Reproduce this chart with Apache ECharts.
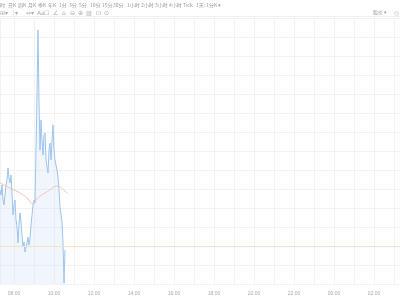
<!DOCTYPE html>
<html><head><meta charset="utf-8">
<script src="https://cdn.jsdelivr.net/npm/echarts@6/dist/echarts.min.js"></script>
<style>html,body{margin:0;padding:0;background:#fff}#c{width:400px;height:300px}</style>
</head><body><div id="c"></div>
<script>
// toolbar labels
var periodLabels = ["时","日K","周K","月K","季K","年K","1分","3分","5分","10分","15分","30分","1小时","2小时","3小时","4小时","Tick"];
var periodX =      [0, 8, 18, 28, 38, 48, 59, 69, 79, 90, 102, 113, 127, 141, 155, 169, 183];
var cycleLabel = "1天: 1分K ▾";
var toolIcons = ["⊞▾","⫶▾","↔▾","Aa","☐","∠","⌂","⊖","⊕","▥","⊡","⊙"];
var rightLabel = "股价 ▾";
// x axis tick labels (every 2 hours from 08:00)
var tickLabels = ["08:00","10:00","12:00","14:00","16:00","18:00","20:00","22:00","00:00","02:00"];
// price series
var times = ["07:18","07:21","07:24","07:27","07:30","07:33","07:36","07:39","07:42","07:45",
"07:48","07:51","07:54","07:57","08:00","08:03","08:06","08:09","08:12","08:15",
"08:18","08:21","08:24","08:27","08:30","08:33","08:36","08:39","08:42","08:45",
"08:48","08:51","08:54","08:57","09:00","09:03","09:06","09:09","09:12","09:15",
"09:18","09:21","09:24","09:27","09:30","09:33","09:36","09:39","09:42","09:45",
"09:48","09:51","09:54","09:57","10:00","10:03","10:06","10:09","10:12","10:15",
"10:18","10:21","10:24","10:27","10:30","10:33"];
var prices = [1949.5,1946.8,1952.1,1944.2,1941.6,1946.8,1952.1,1954.7,1961.1,1955.8,
1953.2,1957.4,1947.9,1936.3,1941.6,1944.2,1933.7,1930.0,1921.6,1931.1,
1937.4,1932.6,1925.8,1919.5,1922.1,1916.8,1918.9,1921.6,1924.7,1920.5,
1924.2,1931.1,1936.3,1941.6,1944.2,1942.6,1970.5,1999.5,2033.7,1996.8,
1970.5,1986.3,1975.8,1967.9,1978.4,1979.5,1965.3,1961.6,1958.4,1970.5,
1974.2,1965.3,1975.8,1983.7,1970.5,1965.3,1962.6,1960.0,1956.3,1949.5,
1940.5,1936.3,1932.6,1921.6,1900.5,1917.9];
// average line
var avgTimes = ["07:18","07:48","08:18","08:39","08:57","09:06","09:18","09:33","09:48","10:09","10:18","10:33","10:42"];
var avgValues = [1953.2,1950.5,1947.9,1945.3,1942.1,1944.2,1946.3,1947.9,1949.5,1951.6,1951.1,1948.9,1947.5];
// previous close
var prevClose = 1920;
// visible time window
var windowStart = "07:18", windowEnd = "03:18";

var BASE = Date.UTC(2024,0,2,0,0);
function toTs(t){var p=t.split(':');var h=+p[0],m=+p[1];var v=h*60+m;if(h<7)v+=24*60;return BASE+v*60000;}
var priceData = times.map(function(t,i){return [toTs(t),prices[i]];});
var avgData = avgTimes.map(function(t,i){return [toTs(t),avgValues[i]];});
var labelMap = {};
tickLabels.forEach(function(l){labelMap[toTs(l)] = l;});

var F = '5px "Noto Sans CJK SC", sans-serif';
var graphics = [];
periodLabels.forEach(function(l,i){
  graphics.push({type:'text',left:periodX[i],top:3,style:{text:l,fill:'#999',font:F}});
});
graphics.push({type:'text',left:196,top:3,style:{text:cycleLabel,fill:'#999',font:F}});
var iconX=[0,13,26,37,44,53,62,70,78,86,96,104];
toolIcons.forEach(function(l,i){
  graphics.push({type:'text',left:iconX[i],top:10,style:{text:l,fill:'#aaa',font:'6px "DejaVu Sans", sans-serif'}});
});
graphics.push({type:'text',left:373,top:10,style:{text:rightLabel,fill:'#999',font:F}});
graphics.push({type:'text',left:394,top:10,style:{text:'◎',fill:'#bbb',font:'6px "DejaVu Sans", sans-serif'}});
graphics.push({type:'rect',shape:{x:0,y:16,width:400,height:1},style:{fill:'#f0f0f0'}});

var chart = echarts.init(document.getElementById('c'));
chart.setOption({
  animation:false,
  useUTC:true,
  graphic:graphics,
  grid:{left:0,right:0,top:18,bottom:16,containLabel:false},
  xAxis:{type:'time',min:toTs(windowStart),max:toTs(windowEnd),
    minInterval:3600000,maxInterval:3600000,
    axisLine:{show:false},axisTick:{show:false},
    splitLine:{show:true,lineStyle:{color:'#f2f2f2',width:1}},
    axisLabel:{color:'#aaa',fontSize:5,margin:7,hideOverlap:false,
      formatter:function(v){return labelMap[v]||'';}}},
  yAxis:{type:'value',min:1900,max:2040,interval:10,position:'right',
    axisLine:{show:false},axisTick:{show:false},axisLabel:{show:false},
    splitLine:{show:true,lineStyle:{color:'#f2f2f2',width:1}}},
  series:[
    {type:'line',data:priceData,symbol:'none',smooth:false,
     lineStyle:{color:'#9cc4ee',width:1},
     areaStyle:{color:'rgba(210,228,249,0.45)',origin:'start'},
     markLine:{silent:true,symbol:'none',label:{show:false},
       lineStyle:{color:'#f7e2c6',type:'solid',width:1},data:[{yAxis:prevClose}]}},
    {type:'line',data:avgData,symbol:'none',smooth:true,
     lineStyle:{color:'#f0c4b0',width:1}}
  ]
});
</script></body></html>
